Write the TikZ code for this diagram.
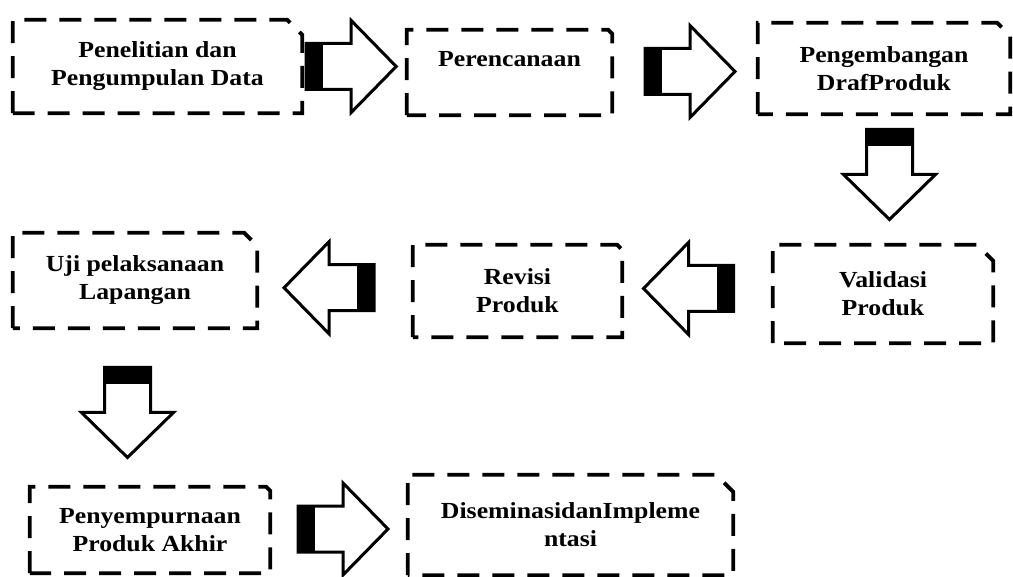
\documentclass[tikz,border=0pt]{standalone}
\usepackage{fontspec}
\newfontfamily\boxfont{Liberation Serif}[FakeStretch=1.12]
\usetikzlibrary{calc}
\tikzset{
  stage/.style={draw=none, inner sep=0pt, align=center,
    font=\boxfont\bfseries\fontsize{23}{28}\selectfont},
  boxline/.style={line width=3.8pt, dash pattern=on 22pt off 13pt},
  pics/blockarrow/.style={code={
    \fill[white] (-45,-23) -- (0,-23) -- (0,-46) -- (45,0) -- (0,46) -- (0,23) -- (-45,23) -- cycle;
    \fill[black] (-45,-23) rectangle (-28,23);
    \draw[line width=3pt, line join=miter]
      (-45,-23) -- (0,-23) -- (0,-46) -- (45,0) -- (0,46) -- (0,23) -- (-45,23) -- cycle;
  }}
}
% dashed frame with the top right corner cut off
\newcommand\snipframe[2]{\draw[boxline] (#1.south west) -- (#1.north west)
  -- ([xshift=-#2pt]#1.north east) -- ([yshift=-#2pt]#1.north east)
  -- (#1.south east) -- cycle;}
\begin{document}
\begin{tikzpicture}[x=1pt,y=-1pt]
\useasboundingbox (0,0) rectangle (1013,577);

% stages
\node[stage, minimum width=289pt, minimum height=93pt] (p1) at (157.5,66.5)
  {Penelitian dan\\Pengumpulan Data};
\node[stage, minimum width=205pt, minimum height=85pt] (p2) at (509.5,72.5)
  {Perencanaan\\~};
\node[stage, minimum width=252pt, minimum height=91pt] (p3) at (884,68.5)
  {Pengembangan\\DrafProduk};
\node[stage, minimum width=220pt, minimum height=98pt] (p4) at (883,294)
  {Validasi\\Produk};
\node[stage, minimum width=209pt, minimum height=92pt] (p5) at (517.5,291)
  {Revisi\\Produk};
\node[stage, minimum width=244pt, minimum height=95pt] (p6) at (135,280.5)
  {Uji pelaksanaan\\Lapangan};
\node[stage, minimum width=240pt, minimum height=86pt] (p7) at (150,530)
  {Penyempurnaan\\Produk Akhir};
\node[stage, minimum width=325pt, minimum height=100pt] (p8) at (570.5,525)
  {DiseminasidanImpleme\\ntasi};

\snipframe{p1}{15}
\snipframe{p2}{4}
\snipframe{p3}{13}
\snipframe{p4}{16}
\snipframe{p5}{5}
\snipframe{p6}{13}
\snipframe{p7}{4}
\snipframe{p8}{17}

% block arrows between the stages
\pic at ($(p1.east)+(49,0)$) {blockarrow};
\pic at ($(p2.east)!0.5!(p3.west)+(5,1)$) {blockarrow};
\pic[rotate=-90] at ($(p3.south)!0.5!(p4.north)+(6,-5)$) {blockarrow};
\pic[rotate=180] at ($(p4.west)!0.5!(p5.east)+(-9,-4)$) {blockarrow};
\pic[rotate=180] at ($(p5.west)!0.5!(p6.east)+(-6,2)$) {blockarrow};
\pic[rotate=-90] at ($(p6.south)!0.5!(p7.north)+(-15,5)$) {blockarrow};
\pic at ($(p7.east)!0.5!(p8.west)+(4,1.5)$) {blockarrow};
\end{tikzpicture}
\end{document}
